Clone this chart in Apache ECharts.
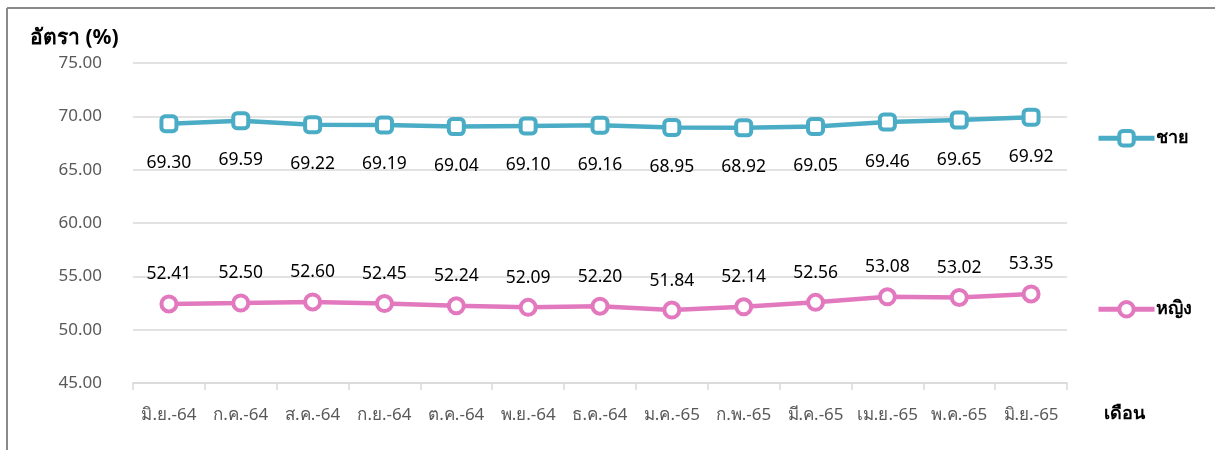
<!DOCTYPE html>
<html>
<head>
<meta charset="utf-8">
<script src="https://cdn.jsdelivr.net/npm/echarts@6/dist/echarts.min.js"></script>
<style>
html,body{margin:0;padding:0;background:#fff;}
#chart{width:1215px;height:450px;}
</style>
</head>
<body>
<div id="chart"></div>
<script>
const categories = ['มิ.ย.-64','ก.ค.-64','ส.ค.-64','ก.ย.-64','ต.ค.-64','พ.ย.-64','ธ.ค.-64','ม.ค.-65','ก.พ.-65','มี.ค.-65','เม.ย.-65','พ.ค.-65','มิ.ย.-65'];
const male = [69.30,69.59,69.22,69.19,69.04,69.10,69.16,68.95,68.92,69.05,69.46,69.65,69.92];
const female = [52.41,52.50,52.60,52.45,52.24,52.09,52.20,51.84,52.14,52.56,53.08,53.02,53.35];
const seriesNames = ['ชาย','หญิง'];
const yAxisTitle = 'อัตรา (%)';
const xAxisTitle = 'เดือน';

const FONT = '"Noto Sans", "DejaVu Sans", sans-serif';
const chart = echarts.init(document.getElementById('chart'), null, {renderer:'canvas'});
const legendCommon = {left:1091,itemWidth:56,itemHeight:18,itemGap:0,
  lineStyle:{width:5},
  itemStyle:{borderWidth:4},
  textStyle:{fontSize:18,fontWeight:'bold',color:'#000',fontFamily:FONT,padding:[0,0,0,-4]}};
chart.setOption({
  animation:false,
  backgroundColor:'#fff',
  textStyle:{fontFamily:FONT},
  grid:{left:133,right:148,top:63,bottom:67},
  legend:[
    Object.assign({data:[seriesNames[0]],top:124},legendCommon),
    Object.assign({data:[seriesNames[1]],top:295},legendCommon)
  ],
  xAxis:{type:'category',data:categories,boundaryGap:true,
    axisLine:{lineStyle:{color:'#d9d9d9',width:1.5}},
    axisTick:{show:true,length:7,lineStyle:{color:'#d9d9d9',width:1.5}},
    axisLabel:{color:'#595959',fontSize:17,margin:24,fontFamily:FONT,interval:0}},
  yAxis:{type:'value',min:45,max:75,interval:5,
    axisLine:{show:false},axisTick:{show:false},
    splitLine:{lineStyle:{color:'#d9d9d9',width:1.5}},
    axisLabel:{color:'#595959',fontSize:17,margin:31,fontFamily:FONT,formatter:v=>v.toFixed(2)}},
  graphic:[
    {type:'line',shape:{x1:7,y1:8,x2:1215,y2:8},style:{stroke:'#8a8a8a',lineWidth:2},silent:true},
    {type:'line',shape:{x1:7,y1:8,x2:7,y2:450},style:{stroke:'#8a8a8a',lineWidth:2},silent:true},
    {type:'text',left:30,top:28,style:{text:yAxisTitle,font:'bold 21px '+FONT,fill:'#000'}},
    {type:'text',left:1104,top:405,style:{text:xAxisTitle,font:'bold 18px '+FONT,fill:'#000'}}
  ],
  series:[
    {name:seriesNames[0],type:'line',data:male,symbol:'roundRect',symbolSize:15,
     lineStyle:{color:'#4BACC6',width:4.5},
     itemStyle:{color:'#fff',borderColor:'#4BACC6',borderWidth:4},
     label:{show:true,position:'bottom',distance:21,fontSize:17.5,color:'#000',fontFamily:FONT,formatter:p=>p.value.toFixed(2)}},
    {name:seriesNames[1],type:'line',data:female,symbol:'circle',symbolSize:15,
     lineStyle:{color:'#E279BE',width:4.5},
     itemStyle:{color:'#fff',borderColor:'#E279BE',borderWidth:4},
     label:{show:true,position:'top',distance:11,fontSize:17.5,color:'#000',fontFamily:FONT,formatter:p=>p.value.toFixed(2)}}
  ]
});
</script>
</body>
</html>
